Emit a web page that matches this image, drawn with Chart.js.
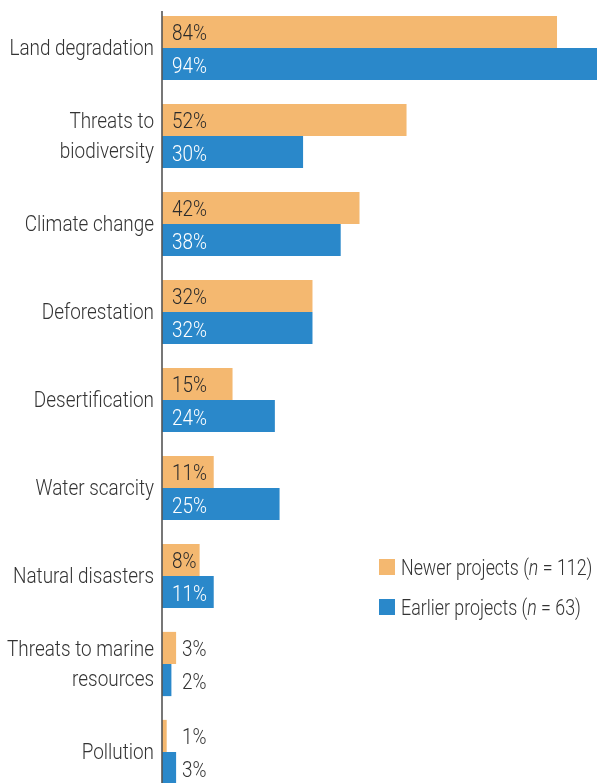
<!DOCTYPE html>
<html>
<head>
<meta charset="utf-8">
<script src="https://cdn.jsdelivr.net/npm/chart.js@4"></script>
<style>
  html, body { margin: 0; padding: 0; background: #fff; overflow: hidden; }
  #wrap { position: relative; width: 597px; height: 796px; }
  #legend { position: absolute; left: 379px; top: 547px; font-family: Roboto, sans-serif; font-weight: 300; font-size: 22px; color: #333; white-space: nowrap; }
  #legend div { display: flex; align-items: center; height: 40px; }
  #legend i.sw { display: inline-block; width: 16px; height: 16px; margin-right: 6px; flex: none; }
  #legend span { display: inline-block; transform: scaleX(0.81); transform-origin: left center; }
</style>
</head>
<body>
<div id="wrap">
  <canvas id="grafica"></canvas>
  <div id="legend"></div>
</div>
<script>
const categories = [
  "Land degradation",
  ["Threats to", "biodiversity"],
  "Climate change",
  "Deforestation",
  "Desertification",
  "Water scarcity",
  "Natural disasters",
  ["Threats to marine", "resources"],
  "Pollution"
];
const newer = [84, 52, 42, 32, 15, 11, 8, 3, 1];
const earlier = [94, 30, 38, 32, 24, 25, 11, 2, 3];
const seriesNames = ["Newer projects", "Earlier projects"];
const seriesN = [112, 63];

const ORANGE = "#F4B870";
const BLUE = "#2A88CA";
const FONT = "300 22px Roboto, sans-serif";

// narrow text: draw with a horizontal squeeze
function texto(ctx, str, x, y, sx) {
  ctx.save();
  ctx.translate(x, y);
  ctx.scale(sx, 1);
  ctx.fillText(str, 0, 0);
  ctx.restore();
}

// category names, percentage text and the axis line
const etiquetas = {
  id: "etiquetas",
  afterDatasetsDraw(chart) {
    const ctx = chart.ctx;
    const area = chart.chartArea;
    const yScale = chart.scales.y;
    ctx.save();
    ctx.font = FONT;
    ctx.textBaseline = "middle";

    // category labels, right aligned against the axis
    ctx.textAlign = "right";
    ctx.fillStyle = "#333";
    chart.data.labels.forEach((lab, j) => {
      const lines = Array.isArray(lab) ? lab : [lab];
      const yc = yScale.getPixelForValue(j);
      lines.forEach((ln, k) => {
        const y = yc + (k - (lines.length - 1) / 2) * 30 + 1;
        texto(ctx, ln, area.left - 8, y, 0.86);
      });
    });

    // values: inside wide bars, just past the axis for tiny ones
    ctx.textAlign = "left";
    chart.data.datasets.forEach((ds, i) => {
      chart.getDatasetMeta(i).data.forEach((bar, j) => {
        const v = ds.data[j];
        let x, color;
        if (v < 5) {
          x = area.left + 20;
          color = "#333";
        } else {
          x = area.left + 10;
          color = i === 0 ? "#2b2b2b" : "#fff";
        }
        ctx.fillStyle = color;
        texto(ctx, v + "%", x, bar.y + 3, 0.86);
      });
    });

    // vertical axis line
    ctx.strokeStyle = "#555";
    ctx.lineWidth = 1.6;
    ctx.beginPath();
    ctx.moveTo(area.left, area.top + 7);
    ctx.lineTo(area.left, area.bottom);
    ctx.stroke();
    ctx.restore();
  }
};

new Chart(document.getElementById("grafica"), {
  type: "bar",
  data: {
    labels: categories,
    datasets: [
      { label: seriesNames[0], data: newer, backgroundColor: ORANGE },
      { label: seriesNames[1], data: earlier, backgroundColor: BLUE }
    ]
  },
  options: {
    indexAxis: "y",
    responsive: true,
    maintainAspectRatio: false,
    animation: false,
    layout: { padding: { top: 4, right: 0, bottom: 0, left: 0 } },
    categoryPercentage: 0.73,
    barPercentage: 1,
    plugins: { legend: { display: false }, tooltip: { enabled: false } },
    scales: {
      x: { display: false, min: 0, max: 92.5 },
      y: {
        grid: { display: false, drawTicks: false },
        border: { display: false },
        ticks: { display: false },
        afterFit(scale) {
          scale.width = 162;
          scale.paddingTop = 0;
          scale.paddingBottom = 0;
        }
      }
    }
  },
  plugins: [etiquetas]
});

// legend with italic n
const colores = [ORANGE, BLUE];
document.getElementById("legend").innerHTML = seriesNames.map((s, i) =>
  `<div><i class="sw" style="background:${colores[i]}"></i><span>${s} (<i>n</i> = ${seriesN[i]})</span></div>`
).join("");
</script>
</body>
</html>
